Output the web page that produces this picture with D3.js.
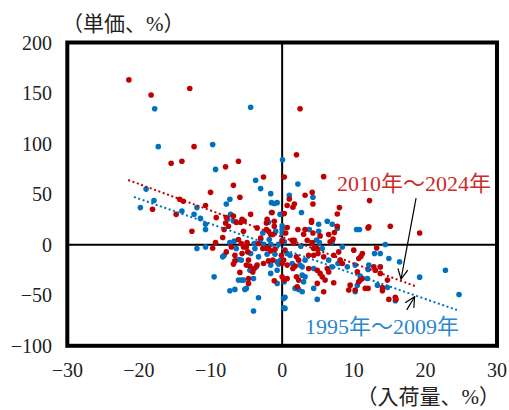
<!DOCTYPE html>
<html>
<head>
<meta charset="utf-8">
<script src="https://cdn.jsdelivr.net/npm/d3@7/dist/d3.min.js"></script>
<style>
  html, body { margin: 0; padding: 0; background: #fff; }
  svg { display: block; }
</style>
</head>
<body>
<svg id="chart" width="509" height="410"></svg>
<script>
// 入荷量（前年比、%）と単価（前年比、%）の散布図
const xTicks = [-30, -20, -10, 0, 10, 20, 30];
const yTicks = [-100, -50, 0, 50, 100, 150, 200];

// 2010年～2024年 [入荷量, 単価]
const recentPoints = [
  [-21.4,163],[-18.3,148],[-12.9,154.5],[2.5,134.5],[-12.3,97],[-15.5,80.5],[-14.0,82.5],
  [-7.9,77],[-6.1,82.5],[2.0,89],[-18.1,35],[-14.3,45],[-13.8,43],[-14.8,30],[-2.6,67],
  [-6.8,58.7],[0.3,67],[-10.0,51.8],[-5.9,46.9],[-10.7,38.7],[-9.2,26.8],[-7.8,26.8],
  [-6.8,28.4],[-4.4,30],[-1.4,31.8],[0.3,30.8],[-5.6,25.2],[-5.3,23.5],[-5.8,21.9],
  [-6.4,21.9],[-7.9,21.5],[-12.6,13.3],[-8.1,15],[-7.5,18.3],[-5.4,13.3],[-3.5,16.6],
  [-2.1,25.2],[-2.2,21.5],[-1.1,23.2],[-1.1,18.3],[-2.2,15],[-1.9,13.3],[-1.6,10],
  [-1.3,10],[-3,6.7],[-8.3,7.1],[-9.3,2.2],[-6.1,5.1],[-4.9,2.2],[0,3.5],[5.8,67.3],
  [12.2,43.6],[3.2,48.9],[4.2,51.8],[1.0,45.2],[1.7,40.3],[1.5,37],[4.3,40.3],[0.7,38.7],
  [8.0,36.7],[7.7,30.4],[4.1,23.9],[4.1,22.2],[7.7,18.3],[12.0,16.6],[0.7,17],[2.2,15],
  [3.2,15],[3.0,10.4],[4.3,11.6],[7.3,12],[6.5,10],[5.3,8.7],[7.1,5.7],[0.5,11.6],
  [1.4,4.4],[1.7,4.4],[3.5,4.4],[4.2,2.2],[6.7,2.8],[-9.7,-3.5],[-7.1,-2.2],[-5.7,1.2],
  [-5.4,-2.2],[-7.8,-7.1],[-6.6,-10.4],[-5.6,-8.7],[-4.8,-7.1],[-5.0,-2.2],[-3.3,1.2],
  [-2.7,-3.8],[-2.2,-3.8],[-1.9,-2.8],[-1.6,-6.1],[-1.0,-4.4],[-0.1,-10.4],[-6.6,-16],
  [-6.8,-19.2],[-4.7,-15.3],[-2.6,-18.6],[-1.9,-16],[-1.3,-15.3],[-3.5,-20.2],
  [-3.9,-23.5],[-4.1,-26.9],[-4.5,-21.2],[-5.0,-20.2],[-5.9,-27.4],[-4.7,-33.4],
  [-4.7,-38.3],[-1.1,-35.7],[0.2,-35],[1.6,1.8],[4.2,1.8],[4.4,-3.8],[4.9,-3.8],
  [7.9,-7.1],[10.0,-5.4],[11.2,-8.7],[10.7,-13.6],[11.0,-11.4],[0.4,-5.4],[2.0,-12],
  [2.3,-15.3],[3.7,-10.4],[4.4,-10.4],[5.0,-8.7],[5.8,-12],[7.2,-10.4],[8.1,-15.3],
  [8.4,-18.6],[10.5,-26.9],[12.8,-21.9],[0,-18.6],[0.2,-15.3],[0.7,-20.2],[1.8,-21.2],
  [1.5,-23.5],[3.7,-23.5],[4.9,-25.2],[5.3,-28.4],[6.3,-23.5],[6.5,-26.9],[0,-31.8],
  [0.7,-33.4],[2.0,-31.8],[2.3,-35],[5.6,-31.8],[6.0,-35],[4.9,-38.3],[7.2,-37.7],
  [9.5,-40],[9.3,-44.9],[10.7,-36.7],[11.6,-43.2],[12.0,-43.2],[10.2,-44.9],[5.8,-46.6],
  [2.1,-41.7],[13.7,-28.4],[15.1,18.3],[19.2,11.6],[13.2,-3.2],[12.1,17.6],[14.9,-54.1],
  [15.8,-52.1],[15.9,-54.1],[14.0,-42.3],[14.0,-45.6],[13.0,-25.2],[14.7,-35],[13.7,-22],
  [10.9,-35],[11.2,-33.4]
];

// 1995年～2009年 [入荷量, 単価]
const earlyPoints = [
  [-17.8,134.5],[-4.4,136],[-17.3,97],[-9.7,99],[0.05,84],[-9.3,74.5],[-19.0,55],
  [-17.9,43.6],[-19.8,36.7],[-14.0,33.4],[-3.7,63.7],[-3.0,55.5],[-1.6,50.5],[-7.3,45],
  [-7.8,40.3],[-1.5,41.6],[-1.1,40.7],[-0.7,41.6],[-11.9,36.7],[-12.3,30],[-11.4,26],
  [-7.2,30],[-7.6,25.2],[-1.5,31.8],[-0.3,30],[-6.8,23.5],[-10.7,20.2],[-10.7,15],
  [-1.9,22.2],[-0.9,13.3],[-2.7,11.6],[0,11.6],[-7.3,2.2],[-6.7,3.5],[-3.9,1.2],
  [-1.8,5.1],[-3.0,5.4],[2.2,60],[4.3,46.9],[1.0,48.9],[2.7,31.8],[0.05,30.4],[6.3,23.2],
  [7.0,20.2],[5.1,20.2],[7.7,16],[10.4,15],[10.8,15],[0,18.6],[0,15.3],[3.8,15],[5.1,13.3],
  [4.8,4.7],[0,4.4],[5.2,2.2],[-11.9,-3.8],[-10.7,-2.2],[-6.4,-3.8],[-8.1,-10.4],
  [-8.3,-12],[-4.4,-8.7],[-3.8,-3.8],[-2.7,0.5],[-1.6,0.5],[-0.5,0.5],[-3.3,-12],
  [-2.1,-9.4],[-1.0,-9.4],[-0.2,-15.3],[-6.1,-14.6],[-5.7,-15.3],[-0.7,-17],[-1.6,-20.2],
  [-0.5,-19.2],[-4.5,-25.2],[-3.6,-21.9],[-0.7,-25.2],[-1.6,-28.4],[-9.5,-31.8],
  [-6.1,-35],[-5.7,-35],[-5.4,-35],[-4.0,-33.4],[-5.0,-43.2],[-5.2,-44.2],[-7.3,-45.6],
  [-6.6,-44.2],[-0.7,-38.3],[-3.3,-52.5],[-4.0,-65.6],[0.2,-53.1],[0.2,-62.4],[0.3,2.8],
  [2.6,-1.5],[5.6,-3.8],[7.0,2.8],[8.4,-2.2],[12.9,-8.7],[0.7,-8.7],[1.1,-10.4],
  [3.2,-15.3],[6.5,-15.3],[7.8,-18.6],[9.1,-21.9],[10.2,-20.2],[12.1,-20.2],[13.7,-21.9],
  [1.4,-18.6],[2.5,-20.2],[2.8,-21.9],[4.4,-23.5],[7.0,-21.9],[0.3,-36.7],[2.8,-30.1],
  [3.2,-31.8],[3.0,-36.7],[4.4,-43.2],[10.5,-40],[1.8,-43.2],[2.3,-44.2],[2.8,-46.6],
  [4.9,-54.1],[0.4,-52.1],[0.4,-63],[13.3,-40],[13.7,-8.7],[14.4,0.2],[14.9,-13.6],
  [16.4,-17],[22.8,-25.2],[19.2,-32.1],[24.7,-49.2],[14.7,-42.3],[10.2,-46.6],
  [11.9,-33.4],[12.0,-24.5],[10.9,-31.1],[15.8,-55.5]
];

// 線形近似線の両端
const recentTrend = [[-21.5, 64], [18.55, -40.9]];
const earlyTrend = [[-20.7, 47.2], [24.4, -64.6]];

// 期間ラベルと矢印（始点 → 先端）
const recentLabel = "2010年～2024年";
const earlyLabel = "1995年～2009年";
const recentArrow = [[18.7, 46], [16.6, -34]];
const earlyArrow = [[17.4, -64.5], [18.5, -51.5]];

const COLOR_RECENT = "#c00000";
const COLOR_EARLY = "#0070c0";
const FONT = "'Liberation Serif', 'Times New Roman', 'DejaVu Serif', 'Noto Sans CJK JP', serif";

const svg = d3.select("#chart");
const x = d3.scaleLinear().domain([-30, 30]).range([67.3, 497]);
const y = d3.scaleLinear().domain([-100, 200]).range([345.8, 42.5]);

svg.append("defs").append("marker")
  .attr("id", "arrowhead")
  .attr("viewBox", "0 0 12 12")
  .attr("refX", 11).attr("refY", 6)
  .attr("markerWidth", 12).attr("markerHeight", 12)
  .attr("markerUnits", "userSpaceOnUse")
  .attr("orient", "auto")
  .append("path")
  .attr("d", "M1,1 L11,6 L1,11")
  .attr("fill", "none")
  .attr("stroke", "#000")
  .attr("stroke-width", 1.2);

// 原点を通る軸線
svg.append("line")
  .attr("x1", x(0)).attr("x2", x(0))
  .attr("y1", y(-100)).attr("y2", y(200))
  .attr("stroke", "#000").attr("stroke-width", 2);
svg.append("line")
  .attr("x1", x(-30)).attr("x2", x(30))
  .attr("y1", y(0)).attr("y2", y(0))
  .attr("stroke", "#000").attr("stroke-width", 2);

// 散布点（古い期間を先に描画）
svg.append("g").selectAll("circle")
  .data(earlyPoints).join("circle")
  .attr("cx", d => x(d[0])).attr("cy", d => y(d[1]))
  .attr("r", 2.8).attr("fill", COLOR_EARLY);

svg.append("g").selectAll("circle")
  .data(recentPoints).join("circle")
  .attr("cx", d => x(d[0])).attr("cy", d => y(d[1]))
  .attr("r", 2.8).attr("fill", COLOR_RECENT);

// 近似線（点線）
const line = d3.line().x(d => x(d[0])).y(d => y(d[1]));
svg.append("path").datum(recentTrend).attr("d", line)
  .attr("fill", "none").attr("stroke", COLOR_RECENT)
  .attr("stroke-width", 2).attr("stroke-dasharray", "2,2.6");
svg.append("path").datum(earlyTrend).attr("d", line)
  .attr("fill", "none").attr("stroke", COLOR_EARLY)
  .attr("stroke-width", 2).attr("stroke-dasharray", "2,2.6");

// 外枠
svg.append("rect")
  .attr("x", x(-30)).attr("y", y(200))
  .attr("width", x(30) - x(-30)).attr("height", y(-100) - y(200))
  .attr("fill", "none").attr("stroke", "#000").attr("stroke-width", 4);

// 目盛ラベル
svg.append("g").selectAll("text")
  .data(xTicks).join("text")
  .attr("font-family", FONT)
  .attr("x", d => x(d)).attr("y", 377)
  .attr("text-anchor", "middle")
  .attr("font-size", 20)
  .attr("fill", "#222")
  .text(d => d < 0 ? "−" + Math.abs(d) : String(d));

svg.append("g").selectAll("text")
  .data(yTicks).join("text")
  .attr("font-family", FONT)
  .attr("x", 52).attr("y", d => y(d))
  .attr("dy", "0.35em")
  .attr("text-anchor", "end")
  .attr("font-size", 20)
  .attr("fill", "#222")
  .text(d => d < 0 ? "−" + Math.abs(d) : String(d));

// 軸タイトル
svg.append("text")
  .attr("font-family", FONT)
  .attr("x", 62).attr("y", 31)
  .attr("font-size", 21)
  .attr("fill", "#222")
  .text("（単価、%）");
svg.append("text")
  .attr("font-family", FONT)
  .attr("x", 500).attr("y", 404)
  .attr("text-anchor", "end")
  .attr("font-size", 21)
  .attr("fill", "#222")
  .text("（入荷量、%）");

// 期間ラベル
svg.append("text")
  .attr("font-family", FONT)
  .attr("x", 337).attr("y", 191)
  .attr("font-size", 22)
  .attr("fill", "#cc2b2b")
  .text(recentLabel);
svg.append("text")
  .attr("font-family", FONT)
  .attr("x", 305).attr("y", 334)
  .attr("font-size", 22)
  .attr("fill", "#2b88cc")
  .text(earlyLabel);

[recentArrow, earlyArrow].forEach(a => {
  svg.append("line")
    .attr("x1", x(a[0][0])).attr("y1", y(a[0][1]))
    .attr("x2", x(a[1][0])).attr("y2", y(a[1][1]))
    .attr("stroke", "#000").attr("stroke-width", 1.2)
    .attr("marker-end", "url(#arrowhead)");
});
</script>
</body>
</html>
